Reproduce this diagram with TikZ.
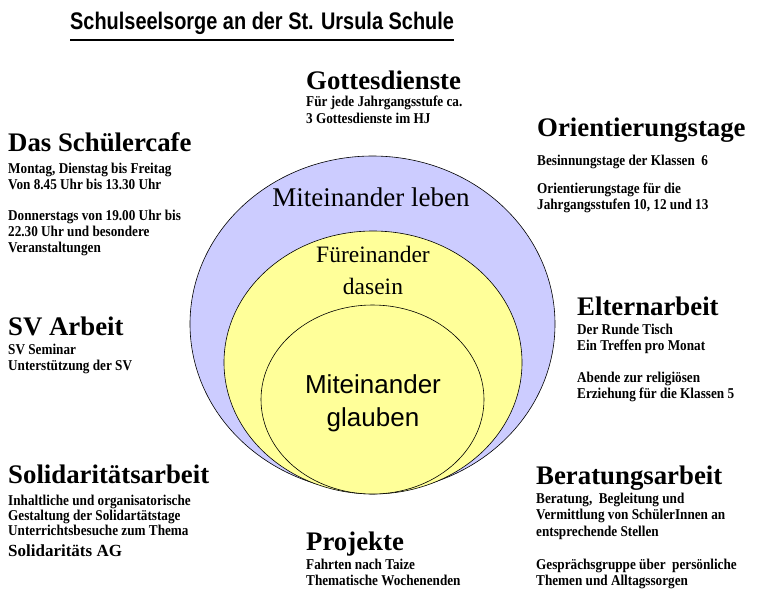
\documentclass[tikz,border=0pt]{standalone}
\usepackage{fontspec}
\setmainfont{Liberation Serif}
\newfontfamily\titlefont[FakeStretch=0.83]{Liberation Sans}
\newfontfamily\narrowfont[FakeStretch=0.88]{Liberation Serif}
\newfontfamily\glaubenfont{Liberation Sans}
\usepackage{xcolor}
\definecolor{lebenblue}{HTML}{CCCCFF}
\definecolor{daseinyellow}{HTML}{FFFF99}

\tikzset{
  titletext/.style={anchor=base west, inner sep=0pt, font=\titlefont\fontsize{24}{24}\selectfont\bfseries},
  heading/.style={anchor=base west, inner sep=0pt, font=\fontsize{26.8}{27}\selectfont\bfseries},
  bodytext/.style={anchor=base west, inner sep=0pt, align=left, font=\narrowfont\fontsize{15}{16}\selectfont\bfseries},
  ringtext/.style={anchor=base, inner sep=0pt, align=center},
  ring/.style={draw=black, line width=0.6pt},
}

\begin{document}
\begin{tikzpicture}[x=1pt, y=-1pt]
\useasboundingbox (0,0) rectangle (780,611);
% title
\node[titletext] (title) at (70,29) {Schulseelsorge an der St. Ursula Schule};
\draw[line width=2.5pt] ([yshift=-11pt]title.base west) -- ([yshift=-11pt]title.base east);
% the three rings
\draw[ring, fill=lebenblue] (372.5,324) ellipse [x radius=182.5pt, y radius=168pt];
\draw[ring, fill=daseinyellow] (373,362.5) ellipse [x radius=149pt, y radius=131.5pt];
\draw[ring, fill=daseinyellow] (372.5,399.5) ellipse [x radius=111.5pt, y radius=94.5pt];
% multi-line nodes sit on their last line
\node[ringtext, font=\fontsize{27}{27}\selectfont] (leben) at (371,206) {Miteinander leben};
\node[ringtext, font=\fontsize{23.5}{32}\selectfont] (dasein) at (373,294) {Füreinander\\dasein};
\node[ringtext, font=\glaubenfont\fontsize{26}{33}\selectfont] (glauben) at (373,426) {Miteinander\\glauben};
% fields
\node[heading] (gott) at (306,89) {Gottesdienste};
\node[bodytext] (gott-txt) at (306,123.5) {Für jede Jahrgangsstufe ca.\\[1pt]3 Gottesdienste im HJ};
\node[heading] (cafe) at (8,151) {Das Schülercafe};
\node[bodytext] (cafe-txt) at (8,252) {Montag, Dienstag bis Freitag\\Von 8.45 Uhr bis 13.30 Uhr\\[15pt]Donnerstags von 19.00 Uhr bis\\22.30 Uhr und besondere\\Veranstaltungen};
\node[heading] (orient) at (537,136.5) {Orientierungstage};
\node[bodytext] (orient-txt) at (537,209) {Besinnungstage der Klassen\ \ 6\\[12pt]Orientierungstage für die\\Jahrgangsstufen 10, 12 und 13};
\node[heading] (sv) at (8,335) {SV Arbeit};
\node[bodytext] (sv-txt) at (8,370) {SV Seminar\\Unterstützung der SV};
\node[heading] (eltern) at (577,315) {Elternarbeit};
\node[bodytext] (eltern-txt) at (577,398) {Der Runde Tisch\\Ein Treffen pro Monat\\[16pt]Abende zur religiösen\\Erziehung für die Klassen 5};
\node[heading] (soli) at (8,483) {Solidaritätsarbeit};
\node[bodytext] (soli-txt) at (8,535) {Inhaltliche und organisatorische\\[-1pt]Gestaltung der Solidartätstage\\[-1pt]Unterrichtsbesuche zum Thema};
\node[heading, font=\fontsize{17}{17}\selectfont\bfseries] (soli-ag) at (8,556) {Solidaritäts AG};
\node[heading] (proj) at (306,550) {Projekte};
\node[bodytext] (proj-txt) at (306,585) {Fahrten nach Taize\\Thematische Wochenenden};
\node[heading] (berat) at (536,484) {Beratungsarbeit};
\node[bodytext] (berat-txt) at (536,585) {Beratung,\ \ Begleitung und\\[0.5pt]Vermittlung von SchülerInnen an\\[0.5pt]entsprechende Stellen\\[17pt]Gesprächsgruppe über\ \ persönliche\\Themen und Alltagssorgen};
\end{tikzpicture}
\end{document}
